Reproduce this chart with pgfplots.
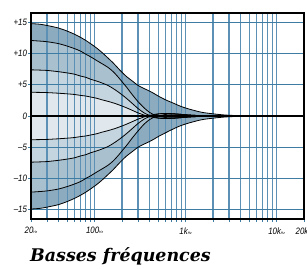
\documentclass[border=0pt]{standalone}
\usepackage{fontspec}
\usepackage{pgfplots}
\pgfplotsset{compat=1.18}
\usepackage{pgfplotstable}
\newfontfamily\labfont[FakeStretch=0.85]{Liberation Sans}
\newfontfamily\titlefont{DejaVu Serif}
\definecolor{gridc}{HTML}{3F7CA3}
\definecolor{gridv}{HTML}{5C90B4}
\definecolor{bandA}{HTML}{8CABBF}
\definecolor{bandB}{HTML}{A9C0CF}
\definecolor{bandC}{HTML}{C5D5DF}
\definecolor{bandD}{HTML}{E0E8EE}
\newcommand\hz{{\fontsize{3.8}{4}\selectfont Hz}}
\pgfplotstableread{
f     p15   p12   p7    p4    n15    n12    n7     n4
20    14.8  12.1  7.4   3.8   -14.9  -12.2  -7.4   -3.8
25    14.7  12.0  7.35  3.78  -14.8  -12.1  -7.35  -3.78
30    14.5  11.9  7.3   3.75  -14.6  -12.0  -7.3   -3.75
40    14.1  11.6  7.1   3.65  -14.2  -11.7  -7.1   -3.65
50    13.6  11.2  6.9   3.55  -13.7  -11.3  -6.9   -3.55
60    13.1  10.8  6.7   3.45  -13.2  -10.9  -6.7   -3.45
70    12.6  10.4  6.4   3.3   -12.7  -10.5  -6.4   -3.3
80    12.1  9.9   6.2   3.2   -12.2  -10.0  -6.2   -3.2
90    11.6  9.5   5.9   3.05  -11.7  -9.6   -5.9   -3.05
105   10.9  8.9   5.6   2.85  -11.0  -9.0   -5.6   -2.85
120   10.2  8.4   5.3   2.6   -10.3  -8.5   -5.3   -2.6
140   9.3   7.8   4.9   2.35  -9.4   -7.9   -4.9   -2.35
160   8.5   7.1   4.4   2.1   -8.6   -7.2   -4.4   -2.1
180   7.7   6.3   3.9   1.85  -7.8   -6.4   -3.9   -1.85
200   7.0   5.5   3.4   1.6   -7.1   -5.6   -3.4   -1.6
225   6.3   4.6   2.8   1.3   -6.4   -4.7   -2.8   -1.3
260   5.6   3.4   2.0   0.9   -5.7   -3.5   -2.0   -0.9
300   4.9   2.3   1.2   0.5   -5.0   -2.4   -1.2   -0.5
350   4.4   1.3   0.5   0.15  -4.5   -1.3   -0.5   -0.15
400   4.0   0.6   0.1   -0.1  -4.1   -0.6   -0.1   0.1
450   3.6   0.2   -0.15 -0.25 -3.7   -0.2   0.15   0.25
500   3.2   0.0   -0.3  -0.35 -3.3   0.0    0.3    0.35
600   2.6   -0.25 -0.4  -0.4  -2.7   0.25   0.4    0.4
750   2.0   -0.3  -0.35 -0.35 -2.0   0.3    0.35   0.35
900   1.5   -0.25 -0.25 -0.25 -1.5   0.25   0.25   0.25
1100  1.1   -0.15 -0.15 -0.15 -1.1   0.15   0.15   0.15
1500  0.6   -0.05 -0.05 -0.05 -0.6   0.05   0.05   0.05
2000  0.35  0     0     0     -0.35  0      0      0
2500  0.2   0     0     0     -0.2   0      0      0
3000  0.12  0     0     0     -0.12  0      0      0
4000  0.05  0     0     0     -0.05  0      0      0
5000  0.02  0     0     0     -0.02  0      0      0
7000  0     0     0     0     0      0      0      0
20000 0     0     0     0     0      0      0      0
}\curves
\begin{document}
\begin{tikzpicture}[trim left=-31bp, trim right=276bp]
\begin{axis}[
  set layers,
  at={(0,0)}, anchor=south west,
  width=273bp, height=206bp, scale only axis,
  xmode=log, xmin=20, xmax=20000, ymin=-16.5, ymax=16.5,
  xtick={20,100,1000,10000,20000},
  xticklabels={20\hz,100\hz,1k\hz,10k\hz,20k\hz},
  minor xtick={30,40,50,60,70,80,90,200,300,400,500,600,700,800,900,2000,3000,4000,5000,6000,7000,8000,9000},
  ytick={-15,-10,-5,0,5,10,15},
  yticklabels={–15,–10,–5,0,+5,+10,+15},
  grid=both,
  major x grid style={gridv, line width=1.1bp},
  minor x grid style={gridv, line width=1.1bp},
  major y grid style={gridc, line width=1bp},
  tick pos=left,
  tick align=outside,
  major tick length=3bp, minor tick length=3bp,
  every tick/.style={gridc, line width=0.9bp},
  axis line style={black, line width=2bp},
  ticklabel style={font=\labfont\itshape\fontsize{9.3}{10}\selectfont},
  xticklabel style={yshift=-2bp},
  yticklabel style={xshift=2.5bp},
]
\addplot[on layer=axis background, fill=bandA, draw=none, smooth] table[x=f,y=p15]{\curves} \closedcycle;
\addplot[on layer=axis background, fill=bandB, draw=none, smooth] table[x=f,y=p12]{\curves} \closedcycle;
\addplot[on layer=axis background, fill=bandC, draw=none, smooth] table[x=f,y=p7]{\curves} \closedcycle;
\addplot[on layer=axis background, fill=bandD, draw=none, smooth] table[x=f,y=p4]{\curves} \closedcycle;
\addplot[on layer=axis background, fill=bandA, draw=none, smooth] table[x=f,y=n15]{\curves} \closedcycle;
\addplot[on layer=axis background, fill=bandB, draw=none, smooth] table[x=f,y=n12]{\curves} \closedcycle;
\addplot[on layer=axis background, fill=bandC, draw=none, smooth] table[x=f,y=n7]{\curves} \closedcycle;
\addplot[on layer=axis background, fill=bandD, draw=none, smooth] table[x=f,y=n4]{\curves} \closedcycle;
\addplot[black, line width=1.3bp] coordinates {(20,0) (20000,0)};
\addplot[black, line width=0.8bp, smooth] table[x=f,y=p15]{\curves};
\addplot[black, line width=0.8bp, smooth] table[x=f,y=p12]{\curves};
\addplot[black, line width=0.8bp, smooth] table[x=f,y=p7]{\curves};
\addplot[black, line width=0.8bp, smooth] table[x=f,y=p4]{\curves};
\addplot[black, line width=0.8bp, smooth] table[x=f,y=n15]{\curves};
\addplot[black, line width=0.8bp, smooth] table[x=f,y=n12]{\curves};
\addplot[black, line width=0.8bp, smooth] table[x=f,y=n7]{\curves};
\addplot[black, line width=0.8bp, smooth] table[x=f,y=n4]{\curves};
\end{axis}
\node[anchor=base west, inner sep=0pt, font=\titlefont\bfseries\itshape\fontsize{17.5}{17.5}\selectfont] at (-1bp,-42bp) {Basses fréquences};
\path (-31bp,-50bp) (276bp,219bp);
\end{tikzpicture}
\end{document}
